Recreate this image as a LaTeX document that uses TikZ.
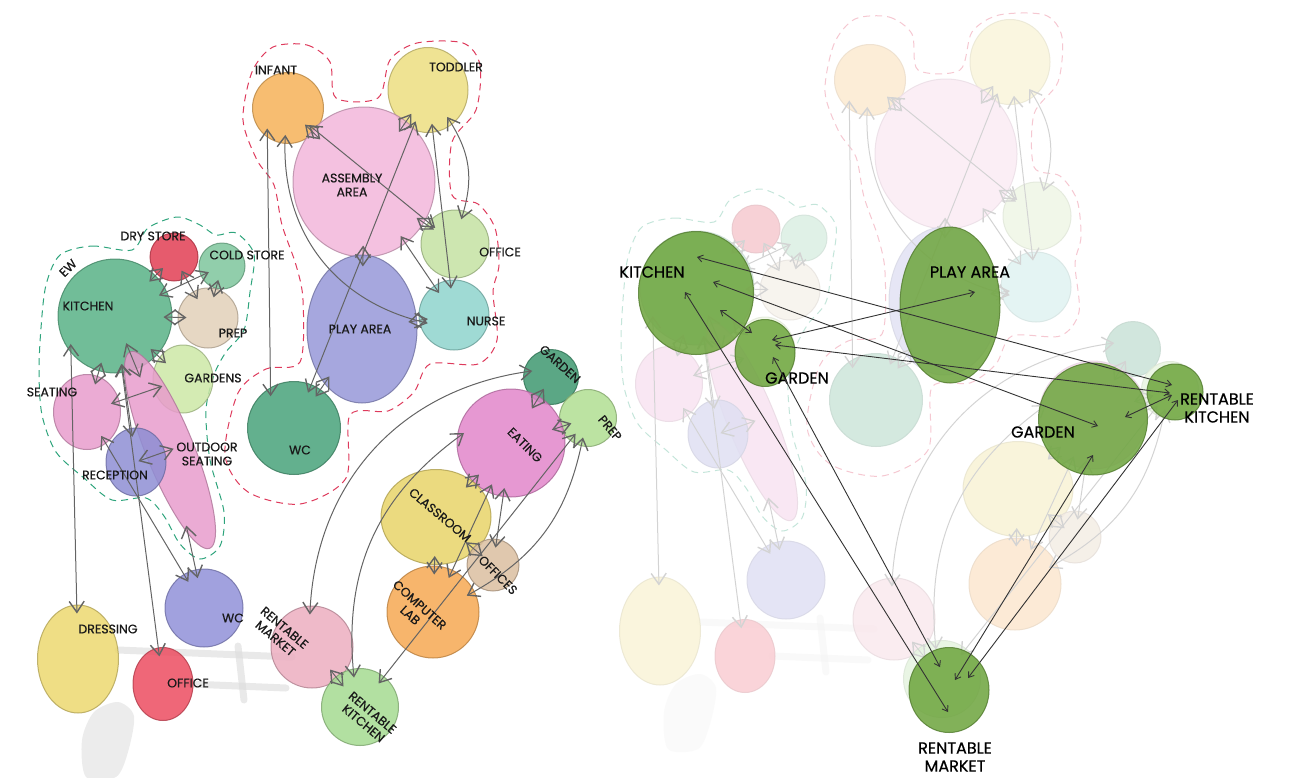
\documentclass[tikz,border=0pt]{standalone}
\usepackage{fontspec}
\setmainfont{Poppins}
\newfontfamily\tagfont{Poppins}[FakeBold=0.5]
\usetikzlibrary{shapes.geometric,arrows.meta}
% bubble colours
\definecolor{infantC}{RGB}{246,178,88}
\definecolor{toddlerC}{RGB}{236,222,128}
\definecolor{assemblyC}{RGB}{242,182,218}
\definecolor{officeC}{RGB}{196,226,162}
\definecolor{nurseC}{RGB}{142,212,204}
\definecolor{playC}{RGB}{150,152,216}
\definecolor{wcC}{RGB}{72,162,122}
\definecolor{kitchenC}{RGB}{88,178,134}
\definecolor{dryC}{RGB}{226,62,84}
\definecolor{coldC}{RGB}{126,198,156}
\definecolor{prepC}{RGB}{226,208,184}
\definecolor{gardensC}{RGB}{204,232,166}
\definecolor{seatC}{RGB}{232,156,204}
\definecolor{receptionC}{RGB}{142,142,212}
\definecolor{wcbC}{RGB}{144,144,216}
\definecolor{dressC}{RGB}{236,216,112}
\definecolor{officebC}{RGB}{236,76,96}
\definecolor{gardenC}{RGB}{62,152,112}
\definecolor{preprC}{RGB}{176,222,146}
\definecolor{eatC}{RGB}{226,134,202}
\definecolor{classC}{RGB}{232,212,104}
\definecolor{officesC}{RGB}{218,190,160}
\definecolor{labC}{RGB}{246,168,82}
\definecolor{marketC}{RGB}{236,174,192}
\definecolor{rkitchenC}{RGB}{164,218,144}
\definecolor{hiGreen}{RGB}{108,164,60}
\definecolor{zoneRed}{RGB}{222,58,92}
\definecolor{zoneGreen}{RGB}{46,164,124}
\definecolor{linkGray}{RGB}{100,100,100}

\tikzset{
	bubble/.style={circle, inner sep=0pt, fill=#1, draw=#1!75!black, line width=1pt, fill opacity=.85, draw opacity=.8},
	oval/.style={bubble=#1, ellipse},
	zone/.style={line width=1pt, dash pattern=on 7pt off 5pt},
	link/.style={<->, draw=linkGray, line width=1pt, shorten <=-9pt, shorten >=-9pt},
	hilink/.style={<->, >={Straight Barb[length=5pt,width=7pt]}, draw=black!80, line width=.9pt},
	tag/.style={font=\tagfont\fontsize{12.5}{14}\selectfont, align=center, text=black!90},
	bigtag/.style={font=\tagfont\fontsize{16}{18}\selectfont, align=center, text=black},
	smudge/.style={fill=black!12, opacity=.6},
	smudgeline/.style={draw=black!14, line width=7pt, line cap=round, opacity=.6},
}

% the whole bubble plan, #1 = prefix of the node names
\newcommand{\bubbleplan}[1]{%
	% zones
	\draw[zone, zoneRed] plot[smooth cycle] coordinates {(273,47) (307,45) (330,62) (336,98) (378,98) (390,60) (417,43) (463,43) (480,65) (476,110) (452,142) (452,195) (478,204) (495,228) (499,265) (493,292) (497,340) (478,364) (430,364) (414,392) (388,411) (350,415) (346,478) (300,504) (248,492) (225,455) (238,393) (266,369) (300,362) (303,300) (296,265) (282,225) (274,185) (257,160) (243,120) (252,72)};
	\draw[zone, zoneGreen] plot[smooth cycle] coordinates {(60,255) (92,246) (132,250) (148,228) (177,217) (200,225) (216,235) (236,233) (254,254) (250,292) (244,330) (226,352) (214,375) (206,410) (210,460) (224,512) (220,546) (200,559) (180,544) (164,516) (146,498) (112,500) (84,478) (56,452) (42,415) (39,372) (41,328) (46,285)};
	% sketch marks
	\fill[smudge] plot[smooth cycle] coordinates {(86,777) (82,740) (94,712) (118,702) (134,716) (128,752) (116,777)};
	\draw[smudgeline] (118,650) -- (292,657);
	\draw[smudgeline] (190,684) -- (286,688);
	\draw[smudgeline] (238,646) -- (244,700);
	% care wing
	\node[bubble=infantC, minimum size=71pt] (#1infant) at (288,108) {};
	\node[oval=toddlerC, minimum width=80pt, minimum height=85pt] (#1toddler) at (428,90) {};
	\node[oval=assemblyC, minimum width=142pt, minimum height=150pt] (#1assembly) at (364,182) {};
	\node[bubble=officeC, minimum size=68pt] (#1officet) at (455,244) {};
	\node[bubble=nurseC, minimum size=70pt] (#1nurse) at (454,315) {};
	\node[oval=playC, minimum width=110pt, minimum height=148pt] (#1play) at (362,329) {};
	\node[bubble=wcC, minimum size=93pt] (#1wct) at (294,428) {};
	% kitchen wing
	\node[bubble=kitchenC, minimum size=114pt] (#1kitchen) at (115,316) {};
	\node[bubble=dryC, minimum size=48pt] (#1dry) at (174,257) {};
	\node[bubble=coldC, minimum size=46pt] (#1cold) at (222,266) {};
	\node[bubble=prepC, minimum size=60pt] (#1prep) at (208,318) {};
	\node[oval=gardensC, minimum width=60pt, minimum height=68pt] (#1gardens) at (183,379) {};
	\node[oval=seatC, minimum width=67pt, minimum height=75pt] (#1seating) at (87,412) {};
	\node[oval=seatC, minimum width=212pt, minimum height=48pt, rotate=-68] (#1outdoor) at (170,450) {};
	\node[oval=receptionC, minimum width=60pt, minimum height=68pt] (#1reception) at (136,462) {};
	\node[bubble=wcbC, minimum size=78pt] (#1wcb) at (204,608) {};
	\node[oval=dressC, minimum width=81pt, minimum height=108pt] (#1dressing) at (78,659) {};
	\node[oval=officebC, minimum width=60pt, minimum height=73pt] (#1officeb) at (163,684) {};
	% learning wing
	\node[bubble=gardenC, minimum size=55pt] (#1garden) at (551,377) {};
	\node[bubble=preprC, minimum size=57pt] (#1prepr) at (588,418) {};
	\node[bubble=eatC, minimum size=108pt] (#1eating) at (511,443) {};
	\node[oval=classC, minimum width=110pt, minimum height=95pt] (#1classroom) at (436,517) {};
	\node[bubble=officesC, minimum size=52pt] (#1offices) at (493,565) {};
	\node[bubble=labC, minimum size=92pt] (#1lab) at (433,612) {};
	\node[bubble=marketC, minimum size=82pt] (#1market) at (312,647) {};
	\node[bubble=rkitchenC, minimum size=77pt] (#1rkitchen) at (360,707) {};
	% links care wing
	\draw[link] (#1infant) -- (#1assembly);
	\draw[link] (#1infant.265) to[bend right=40] (#1nurse.190);
	\draw[link] (#1infant.235) -- (#1wct.120);
	\draw[link] (#1infant) -- (#1officet);
	\draw[link] (#1toddler) -- (#1assembly);
	\draw[link] (#1toddler) -- (#1wct);
	\draw[link] (#1toddler) -- (#1nurse);
	\draw[link] (#1toddler) to[bend left=25] (#1officet);
	\draw[link] (#1assembly) -- (#1play);
	\draw[link] (#1assembly) -- (#1officet);
	\draw[link] (#1assembly) -- (#1nurse);
	\draw[link] (#1play) -- (#1nurse);
	\draw[link] (#1wct) -- (#1play);
	% links kitchen wing
	\draw[link] (#1kitchen) -- (#1dry);
	\draw[link] (#1kitchen) -- (#1cold);
	\draw[link] (#1kitchen) -- (#1prep);
	\draw[link] (#1dry) -- (#1prep);
	\draw[link] (#1cold) -- (#1prep);
	\draw[link] (#1kitchen) -- (#1gardens);
	\draw[link] (#1kitchen) -- (#1seating);
	\draw[link] (#1kitchen) -- (#1outdoor);
	\draw[link] (#1kitchen) -- (#1reception);
	\draw[link] (#1kitchen) -- (#1officeb);
	\draw[link] (#1kitchen.220) -- (#1dressing);
	\draw[link] (#1seating) -- (#1gardens);
	\draw[link] (#1seating) -- (#1wcb);
	\draw[link] (#1reception) -- (#1outdoor);
	\draw[link] (#1outdoor) -- (#1wcb);
	% links learning wing
	\draw[link] (#1garden) -- (#1eating);
	\draw[link] (#1eating) -- (#1prepr);
	\draw[link] (#1garden.170) to[bend right=40] (#1market);
	\draw[link] (#1eating.175) to[bend right=30] (#1rkitchen);
	\draw[link] (#1eating) -- (#1classroom);
	\draw[link] (#1eating) -- (#1lab);
	\draw[link] (#1eating) -- (#1offices);
	\draw[link] (#1prepr) to[bend left=25] (#1lab);
	\draw[link] (#1prepr) -- (#1rkitchen);
	\draw[link] (#1classroom) -- (#1lab);
	\draw[link] (#1classroom) -- (#1offices);
	\draw[link] (#1market) -- (#1rkitchen);
}

\begin{document}
\begin{tikzpicture}[x=1pt, y=-1pt, >={Straight Barb[length=11pt,width=15pt,line width=1.4pt]}]
	\useasboundingbox (0,0) rectangle (1293,777);
	
	% left plan
	\bubbleplan{}
	
	% faded copy on the right
	\begin{scope}[shift={(582,-28)}]
		\bubbleplan{r-}
	\end{scope}
	\fill[white, opacity=.72] (618,0) rectangle (1293,777);
	
	% labels of the left plan
	\node[tag] (infantlbl) at (276,70) {INFANT};
	\node[tag] (toddlerlbl) at (456,67) {TODDLER};
	\node[tag] (assemblylbl) at (352,185) {ASSEMBLY\\AREA};
	\node[tag] (officetlbl) at (500,252) {OFFICE};
	\node[tag] (nurselbl) at (486,321) {NURSE};
	\node[tag] (playlbl) at (360,329) {PLAY AREA};
	\node[tag] (wctlbl) at (300,450) {WC};
	\node[tag] (drylbl) at (153,236) {DRY STORE};
	\node[tag] (coldlbl) at (247,255) {COLD STORE};
	\node[tag, rotate=45] (ewlbl) at (68,268) {EW};
	\node[tag] (kitchenlbl) at (88,306) {KITCHEN};
	\node[tag] (preplbl) at (233,333) {PREP};
	\node[tag] (gardenslbl) at (213,378) {GARDENS};
	\node[tag] (seatlbl) at (52,392) {SEATING};
	\node[tag] (receptionlbl) at (115,475) {RECEPTION};
	\node[tag] (outdoorlbl) at (207,454) {OUTDOOR\\SEATING};
	\node[tag] (wcblbl) at (233,618) {WC};
	\node[tag] (dressinglbl) at (108,629) {DRESSING};
	\node[tag] (officeblbl) at (188,683) {OFFICE};
	\node[tag, rotate=-42] (gardenlbl) at (560,364) {GARDEN};
	\node[tag, rotate=-50] (preprlbl) at (610,428) {PREP};
	\node[tag, rotate=-45] (eatlbl) at (525,445) {EATING};
	\node[tag, rotate=-40] (classlbl) at (440,515) {CLASSROOM};
	\node[tag, rotate=-45] (officeslbl) at (498,575) {OFFICES};
	\node[tag, rotate=-42] (lablbl) at (415,610) {COMPUTER\\LAB};
	\node[tag, rotate=-40] (marketlbl) at (280,633) {RENTABLE\\MARKET};
	\node[tag, rotate=-40] (rkitchenlbl) at (368,718) {RENTABLE\\KITCHEN};
	
	% highlighted spaces
	\node[oval=hiGreen, minimum width=115pt, minimum height=123pt] (hkitchen) at (696,293) {};
	\node[oval=hiGreen, minimum width=60pt, minimum height=67pt] (hgarden) at (765,353) {};
	\node[oval=hiGreen, minimum width=100pt, minimum height=156pt] (hplay) at (950,305) {};
	\node[oval=hiGreen, minimum width=109pt, minimum height=112pt] (hgardenb) at (1093,419) {};
	\node[bubble=hiGreen, minimum size=56pt] (hrkitchen) at (1175,392) {};
	\node[oval=hiGreen, minimum width=80pt, minimum height=85pt] (hmarket) at (949,690) {};
	
	\node[bigtag] (hkitchenlbl) at (652,272) {KITCHEN};
	\node[bigtag] (hplaylbl) at (970,272) {PLAY AREA};
	\node[bigtag] (hgardenlbl) at (797,378) {GARDEN};
	\node[bigtag] (hgardenblbl) at (1043,432) {GARDEN};
	\node[bigtag] (hrkitchenlbl) at (1217,408) {RENTABLE\\KITCHEN};
	\node[bigtag] (hmarketlbl) at (955,757) {RENTABLE\\MARKET};
	
	% highlighted links
	\draw[hilink] ([shift={(1,-36)}]hkitchen.center) -- ([shift={(-3,-7)}]hrkitchen.center);
	\draw[hilink] ([shift={(17,-11)}]hkitchen.center) -- ([shift={(5,7)}]hgardenb.center);
	\draw[hilink] ([shift={(7,-13)}]hgarden.center) -- ([shift={(25,-13)}]hplay.center);
	\draw[hilink] ([shift={(10,-8)}]hgarden.center) -- ([shift={(-5,1)}]hrkitchen.center);
	\draw[hilink] ([shift={(24,17)}]hkitchen.center) -- ([shift={(-13,-20)}]hgarden.center);
	\draw[hilink] ([shift={(-11,-1)}]hkitchen.center) -- ([shift={(-1,22)}]hmarket.center);
	\draw[hilink] ([shift={(8,4)}]hgarden.center) -- ([shift={(-9,-23)}]hmarket.center);
	\draw[hilink] ([shift={(0,36)}]hgardenb.center) -- ([shift={(6,-10)}]hmarket.center);
	\draw[hilink] ([shift={(3,8)}]hrkitchen.center) -- ([shift={(19,-12)}]hmarket.center);
	\draw[hilink] ([shift={(-3,3)}]hrkitchen.center) -- ([shift={(32,-2)}]hgardenb.center);
\end{tikzpicture}
\end{document}
